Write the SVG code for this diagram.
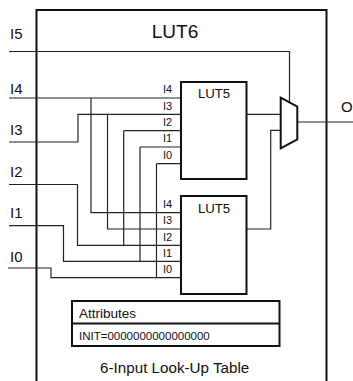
<svg xmlns="http://www.w3.org/2000/svg" width="353" height="381" viewBox="0 0 353 381">
<style>
text{font-family:"Liberation Sans",Arial,sans-serif;fill:#111}
.w{fill:none;stroke:#222;stroke-width:1.2}
.b{fill:#fff;stroke:#111;stroke-width:2}
.p{font-size:15px}
.s{font-size:11px}
.l{font-size:13.200px}
</style>
<rect width="353" height="381" fill="#fff"/>
<g id="lut6"><path d="M36.500 381V10H326.500V381" fill="none" stroke="#111" stroke-width="2"/><text x="175" y="37.700" font-size="19px" text-anchor="middle">LUT6</text></g>
<g id="connectors">
<path class="w" d="M9 51.500H289.500V102"/>
<path class="w" d="M9 98H181"/>
<path class="w" d="M9 142H78V114.300H181"/>
<path class="w" d="M9 184.500H77.500V245.300H181"/>
<path class="w" d="M9 225.700H63.500V261.300H181"/>
<path class="w" d="M8 268H51V277.700H181"/>
<path class="w" d="M91 98V212.700H181"/>
<path class="w" d="M107.500 114.300V229H181"/>
<path class="w" d="M123.700 130.700H181M123.700 130.700V245.300"/>
<path class="w" d="M140 147H181M140 147V261.300"/>
<path class="w" d="M156.500 163.700H181M156.500 163.700V277.700"/>
<path class="w" d="M246 114.300H281"/>
<path class="w" d="M246 229H270.700V130.300H281"/>
<path class="w" d="M297 122H353"/>
</g>
<g id="lut5-top"><rect class="b" x="181" y="82" width="65.500" height="97"/><text class="l" x="214" y="98.300" text-anchor="middle">LUT5</text></g>
<g id="lut5-bottom"><rect class="b" x="181" y="196" width="65.500" height="98"/><text class="l" x="214" y="212.500" text-anchor="middle">LUT5</text></g>
<g id="mux"><path class="b" d="M280.700 97.700L297.300 106.500V139.500L280.700 148.300Z"/></g>
<g id="attributes"><rect class="b" x="72" y="301" width="207.500" height="45"/><path d="M72 323.500H279.500" stroke="#111" stroke-width="2"/><text x="79" y="318" font-size="13.500px">Attributes</text><text x="79" y="340" font-size="11.500px">INIT=0000000000000000</text></g>
<g id="labels">
<text class="p" x="10" y="39">I5</text>
<text class="p" x="10" y="93.500">I4</text>
<text class="p" x="10" y="135">I3</text>
<text class="p" x="10" y="176.500">I2</text>
<text class="p" x="10" y="218">I1</text>
<text class="p" x="10" y="261.700">I0</text>
<text class="p" x="341" y="112.300">O</text>
<text class="s" x="163" y="93">I4</text><text class="s" x="163" y="110">I3</text><text class="s" x="163" y="126">I2</text><text class="s" x="163" y="142">I1</text><text class="s" x="163" y="159">I0</text>
<text class="s" x="163" y="208">I4</text><text class="s" x="163" y="224">I3</text><text class="s" x="163" y="241">I2</text><text class="s" x="163" y="257">I1</text><text class="s" x="163" y="273">I0</text>
<text x="174.700" y="373.300" font-size="15.200px" text-anchor="middle">6-Input Look-Up Table</text>
</g>
</svg>
